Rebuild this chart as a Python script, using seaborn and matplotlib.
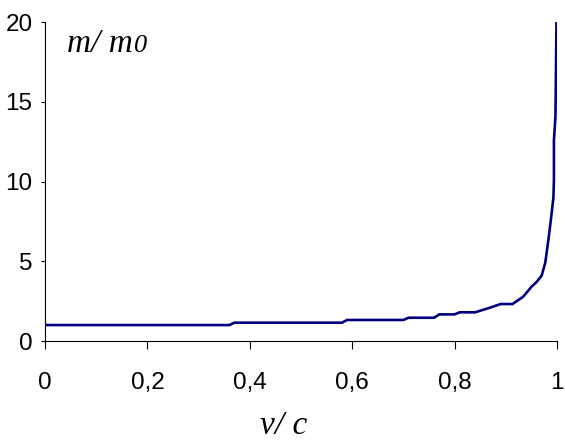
import matplotlib
matplotlib.use("Agg")
import matplotlib.pyplot as plt
import seaborn as sns
import pandas as pd

# data (v/c, m/m0)
v_over_c = [0.0, 0.36, 0.37, 0.58, 0.59, 0.70, 0.71, 0.76, 0.77, 0.80, 0.81, 0.84,
            0.87, 0.89, 0.913, 0.934, 0.95, 0.96, 0.97, 0.977, 0.983, 0.988,
            0.993, 0.994, 0.994, 0.997, 0.999]
m_over_m0 = [1.0, 1.0, 1.15, 1.15, 1.32, 1.32, 1.46, 1.46, 1.67, 1.67, 1.80, 1.80,
             2.1, 2.32, 2.32, 2.78, 3.4, 3.7, 4.1, 4.9, 6.3, 7.6,
             9.0, 10.1, 12.6, 14.1, 20.0]
x_ticks = [0, 0.2, 0.4, 0.6, 0.8, 1.0]
x_tick_labels = ["0", "0,2", "0,4", "0,6", "0,8", "1"]
y_ticks = [0, 5, 10, 15, 20]
y_tick_labels = ["0", "5", "10", "15", "20"]

df = pd.DataFrame({"v": v_over_c, "m": m_over_m0})

sns.set_style("white")
plt.rcParams["font.family"] = ["Liberation Sans", "DejaVu Sans"]

fig = plt.figure(figsize=(5.65, 4.41), dpi=100)
ax = fig.add_axes([45/565, 1 - 341/441, (557 - 45)/565, (341 - 22.3)/441])

sns.lineplot(data=df, x="v", y="m", sort=False, estimator=None, ax=ax,
             color="#000080", linewidth=1.9)

ax.set_xlim(0, 1)
ax.set_ylim(0, 20)
ax.set_xticks(x_ticks)
ax.set_xticklabels(x_tick_labels)
ax.set_yticks(y_ticks)
ax.set_yticklabels(y_tick_labels)
ax.set_xlabel("")
ax.set_ylabel("")

for s in ["top", "right"]:
    ax.spines[s].set_visible(False)
for s in ["left", "bottom"]:
    ax.spines[s].set_color("black")
    ax.spines[s].set_linewidth(0.8)

ax.tick_params(axis="x", direction="out", length=6, width=0.8, color="black",
               pad=16, labelsize=17.5, labelcolor="black")
ax.tick_params(axis="y", direction="out", length=3, width=0.8, color="black",
               pad=6, labelsize=17.5, labelcolor="black")
ax.tick_params(bottom=True, left=True)

base_y = 1 - (52 - 22.3)/318.7
ax.text((67 - 45)/512, base_y, "m/ m", transform=ax.transAxes, color="black",
        family="Liberation Serif", style="italic", fontsize=24, va="baseline", ha="left")
ax.text((134 - 45)/512, base_y, "0", transform=ax.transAxes, color="black",
        family="Liberation Serif", style="italic", fontsize=19, va="baseline", ha="left")

fig.text(284/565, 1 - 434/441, "v/ c", family="Liberation Serif", style="italic",
         color="black", fontsize=24, ha="center", va="baseline")

fig.savefig("out.png", dpi=100)
